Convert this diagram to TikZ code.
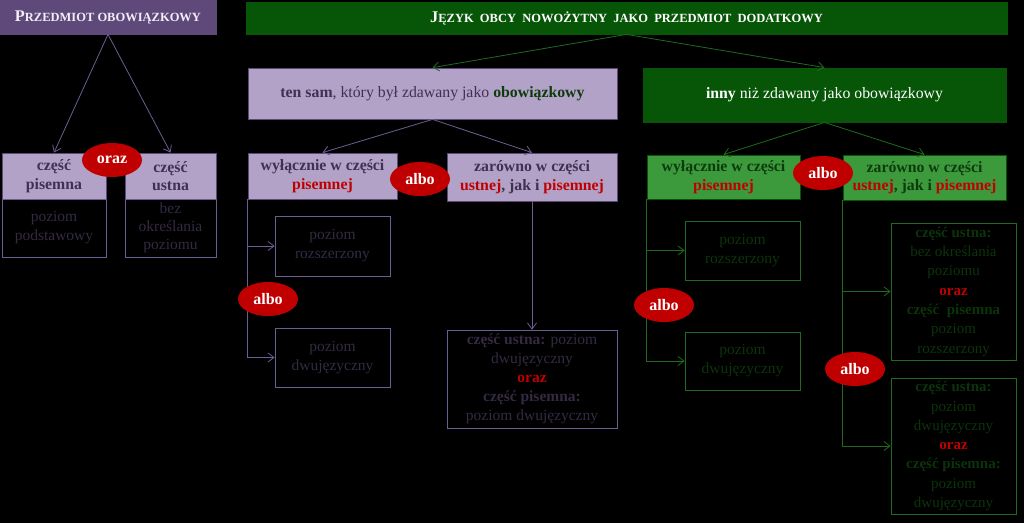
\documentclass[tikz,border=0pt]{standalone}
\usepackage{fontspec}
\setmainfont{Liberation Serif}
\usetikzlibrary{arrows.meta,shapes.geometric}
\definecolor{pdark}{HTML}{5F497A}
\definecolor{plight}{HTML}{B3A2C7}
\definecolor{ptext}{HTML}{3F3151}
\definecolor{pline}{HTML}{6E5D92}
\definecolor{pfaint}{HTML}{342A43}
\definecolor{gdark}{HTML}{075507}
\definecolor{gmid}{HTML}{3C9A3C}
\definecolor{gtext}{HTML}{0E3B0E}
\definecolor{gline}{HTML}{1F6A1F}
\definecolor{gfaint}{HTML}{0B340B}
\definecolor{redc}{HTML}{C00000}
\definecolor{titlew}{HTML}{F2EEF6}
\newcommand{\rd}[1]{\textcolor{redc}{#1}}
\newcommand{\scbig}[1]{{\fontsize{16.3}{19}\selectfont #1}}
\newcommand{\scsmall}[1]{{\fontsize{12.5}{15}\selectfont #1}}
\begin{document}
\begin{tikzpicture}[x=1pt,y=-1pt,
  box/.style={draw, rectangle, inner sep=2pt, align=center, line width=0.8pt},
  lav/.style={box, draw=pdark, fill=plight, text=ptext, font=\fontsize{15.8}{18.5}\selectfont\bfseries},
  pdarkbox/.style={box, draw=pdark, fill=pdark, text=titlew, font=\bfseries},
  gdarkbox/.style={box, draw=gdark, fill=gdark, text=white, font=\fontsize{15.8}{18.5}\selectfont},
  gmidbox/.style={box, draw=gdark, fill=gmid, text=gtext, font=\fontsize{15.8}{18.5}\selectfont\bfseries},
  pfbox/.style={box, draw=pline, fill=black, text=pfaint, font=\fontsize{15.5}{19}\selectfont},
  gfbox/.style={box, draw=gline, fill=black, text=gfaint, font=\fontsize{15.5}{19}\selectfont},
  oval/.style={ellipse, fill=redc, text=white, inner sep=0pt, minimum width=60pt, minimum height=34pt, font=\fontsize{16}{18}\selectfont\bfseries},
  parr/.style={draw=pline, line width=0.8pt, -{Straight Barb[length=6pt,width=9pt]}},
  garr/.style={draw=gline, line width=0.8pt, -{Straight Barb[length=6pt,width=9pt]}}]
\fill[black] (0,0) rectangle (1024,523);
\useasboundingbox (0,0) rectangle (1024,523);

% left part
\node[pdarkbox, minimum width=216pt, minimum height=34pt] (po) at (108,17)
  {\scbig{P}\scsmall{RZEDMIOT OBOWIĄZKOWY}};
\node[lav, minimum width=104pt, minimum height=46pt] (cp) at (54,176) {część\\pisemna};
\node[pfbox, minimum width=104pt, minimum height=58pt] (cpl) at (54,228) {poziom\\podstawowy};
\node[lav, minimum width=91pt, minimum height=46pt] (cu) at (170.5,176) {część\\ustna};
\node[pfbox, minimum width=91pt, minimum height=58pt, font=\fontsize{15.5}{18}\selectfont] (cul) at (170.5,228) {bez\\określania\\poziomu};
\draw[parr] (po.south) -- (cp.north);
\draw[parr] (po.south) -- (cu.north);
\node[oval] (oraz1) at (112,160) {oraz};

% top green
\node[gdarkbox, minimum width=761pt, minimum height=32pt, font=\bfseries] (jez) at (626.5,18)
  {\scbig{J}\scsmall{ĘZYK\ \ OBCY\ \ NOWOŻYTNY\ \ JAKO\ \ PRZEDMIOT\ \ DODATKOWY}};

% middle purple branch
\node[lav, font=\fontsize{15.8}{18.5}\selectfont, minimum width=369pt, minimum height=51pt] (ts) at (432.5,93.5)
  {\textbf{ten sam}, który był zdawany jako \textbf{\textcolor{gtext}{obowiązkowy}}};
\node[lav, minimum width=149pt, minimum height=46pt] (wyl1) at (322.5,176) {wyłącznie w części\\\rd{pisemnej}};
\node[lav, minimum width=170pt, minimum height=48pt] (zar1) at (532,177) {zarówno w części\\\rd{ustnej}, jak i \rd{pisemnej}};
\node[pfbox, minimum width=115pt, minimum height=60pt] (r1) at (332.5,246) {poziom\\rozszerzony};
\node[pfbox, minimum width=115pt, minimum height=59pt] (d1) at (332.5,357.5) {poziom\\dwujęzyczny};
\node[pfbox, minimum width=170pt, minimum height=98pt] (zd1) at (532,379)
  {\textbf{część ustna:} poziom\\dwujęzyczny\\\rd{\textbf{oraz}}\\\textbf{część pisemna:}\\poziom dwujęzyczny};
\draw[garr] (jez.south) -- (ts.north);
\draw[parr] (ts.south) -- (wyl1.north);
\draw[parr] (ts.south) -- (zar1.north);
\draw[parr] (wyl1.south west) |- (r1.west);
\draw[parr] (wyl1.south west) |- (d1.west);
\draw[parr] (zar1.south) -- (zd1.north);
\node[oval] (albo1) at (420,179) {albo};
\node[oval] (albo2) at (268,299) {albo};

% right green branch
\node[gdarkbox, minimum width=363pt, minimum height=54pt] (inny) at (824.5,95)
  {\textbf{inny} niż zdawany jako obowiązkowy};
\node[gmidbox, minimum width=153pt, minimum height=44pt] (wyl2) at (723.5,177) {wyłącznie w części\\\rd{pisemnej}};
\node[gmidbox, minimum width=163pt, minimum height=45pt] (zar2) at (924.5,177.5) {zarówno w części\\\rd{ustnej}, jak i \rd{pisemnej}};
\node[gfbox, minimum width=115pt, minimum height=59pt] (r2) at (742.5,250.5) {poziom\\rozszerzony};
\node[gfbox, minimum width=115pt, minimum height=58pt] (d2) at (742.5,361) {poziom\\dwujęzyczny};
\node[gfbox, minimum width=125pt, minimum height=137pt, font=\fontsize{15}{19.3}\selectfont] (b3) at (953.5,291.5)
  {\textbf{część ustna:}\\bez określania\\poziomu\\\rd{\textbf{oraz}}\\\textbf{część\ \ pisemna}\\poziom\\rozszerzony};
\node[gfbox, minimum width=125pt, minimum height=136pt, font=\fontsize{15}{19.3}\selectfont] (b4) at (953.5,446)
  {\textbf{część ustna:}\\poziom\\dwujęzyczny\\\rd{\textbf{oraz}}\\\textbf{część pisemna:}\\poziom\\dwujęzyczny};
\draw[garr] (jez.south) -- (inny.north);
\draw[garr] (inny.south) -- (wyl2.north);
\draw[garr] (inny.south) -- (zar2.north);
\draw[garr] (wyl2.south west) |- (r2.west);
\draw[garr] (wyl2.south west) |- (d2.west);
\draw[garr] (zar2.south west) |- (b3.west);
\draw[garr] (zar2.south west) |- (b4.west);
\node[oval] (albo3) at (823,173) {albo};
\node[oval] (albo4) at (664,305) {albo};
\node[oval] (albo5) at (855,369) {albo};
\end{tikzpicture}
\end{document}
